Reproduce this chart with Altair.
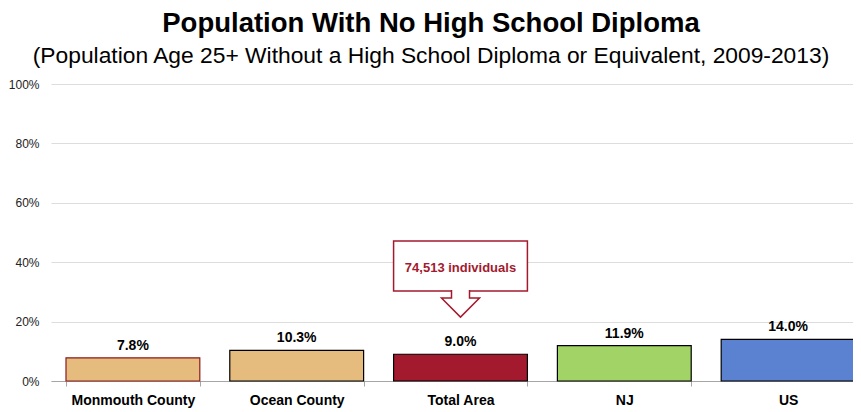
import altair as alt
import pandas as pd

categories = ["Monmouth County", "Ocean County", "Total Area", "NJ", "US"]
values = [7.8, 10.3, 9.0, 11.9, 14.0]
value_labels = ["7.8%", "10.3%", "9.0%", "11.9%", "14.0%"]
fill_colors = ["#E5BC7E", "#E5BC7E", "#A31A2E", "#A2D366", "#5A82D0"]
stroke_colors = ["#8B1A1A", "#000000", "#000000", "#000000", "#000000"]

callout_category = ["Total Area"]
callout_text = ["74,513 individuals"]
callout_box_bottom = [30.3]
callout_box_top = [47.1]
callout_text_y = [38.0]
callout_arrow_y = [25.9]

y_ticks = [0, 20, 40, 60, 80, 100]

FONT = "Liberation Sans"
RED = "#A31A2E"

df = pd.DataFrame({
    "category": categories,
    "value": values,
    "label": value_labels,
    "fill": fill_colors,
    "stroke": stroke_colors,
})
call = pd.DataFrame({
    "category": callout_category,
    "text": callout_text,
    "y1": callout_box_bottom,
    "y2": callout_box_top,
    "ty": callout_text_y,
    "ay": callout_arrow_y,
})

x_enc = alt.X(
    "category:N",
    sort=categories,
    scale=alt.Scale(range=[0, 819], paddingInner=0.183, paddingOuter=0.0915),
    axis=alt.Axis(
        title=None, labelAngle=0, labelFont=FONT, labelFontSize=14,
        labelFontWeight="bold", labelColor="#000000", tickBand="extent",
        domainColor="#A6A6A6", tickColor="#A6A6A6", tickSize=5, labelPadding=7,
    ),
)
y_scale = alt.Scale(domain=[0, 100])
y_axis = alt.Axis(
    title=None, values=y_ticks, labelExpr="datum.value + '%'",
    labelFont=FONT, labelFontSize=12, labelColor="#222222",
    domain=False, ticks=False, labelPadding=12,
    gridColor="#DDDDDD", gridWidth=1,
)

bars = alt.Chart(df).mark_bar(strokeWidth=1.2).encode(
    x=x_enc,
    y=alt.Y("value:Q", scale=y_scale, axis=y_axis),
    fill=alt.Fill("fill:N", scale=None),
    stroke=alt.Stroke("stroke:N", scale=None),
)

bar_text = alt.Chart(df).mark_text(
    font=FONT, fontSize=14, fontWeight="bold", color="#000000",
    baseline="alphabetic", dy=-8,
).encode(
    x=alt.X("category:N", sort=categories),
    y=alt.Y("value:Q"),
    text="label:N",
)

box = alt.Chart(call).mark_bar(fill="#FFFFFF", stroke=RED, strokeWidth=1.5).encode(
    x=alt.X("category:N", sort=categories),
    y=alt.Y("y1:Q"),
    y2="y2:Q",
)

arrow_path = "M -0.45 -0.7 L -0.45 -0.3 L -0.95 -0.3 L 0 0.65 L 0.95 -0.3 L 0.45 -0.3 L 0.45 -0.7"
arrow = alt.Chart(call).mark_point(
    shape=arrow_path, size=1600, filled=True, fill="#FFFFFF",
    stroke=RED, strokeWidth=1.5, opacity=1,
).encode(
    x=alt.X("category:N", sort=categories),
    y=alt.Y("ay:Q"),
)

box_text = alt.Chart(call).mark_text(
    font=FONT, fontSize=13, fontWeight="bold", color=RED, baseline="middle",
).encode(
    x=alt.X("category:N", sort=categories),
    y=alt.Y("ty:Q"),
    text="text:N",
)

chart = alt.layer(bars, bar_text, box, arrow, box_text).properties(
    width=802,
    height=297,
    autosize=alt.AutoSizeParams(type="none"),
    padding={"left": 43, "top": 76, "right": 0, "bottom": 30},
    title=alt.TitleParams(
        text="Population With No High School Diploma",
        subtitle="(Population Age 25+ Without a High School Diploma or Equivalent, 2009-2013)",
        font=FONT, fontSize=27.5, fontWeight="bold", color="#000000",
        subtitleFont=FONT, subtitleFontSize=22.8, subtitleColor="#000000",
        anchor="middle", frame="group", offset=10, subtitlePadding=8, dx=-21,
    ),
).configure_view(stroke=None)

chart.save("out.html", embed_options={"renderer": "svg", "actions": False})
